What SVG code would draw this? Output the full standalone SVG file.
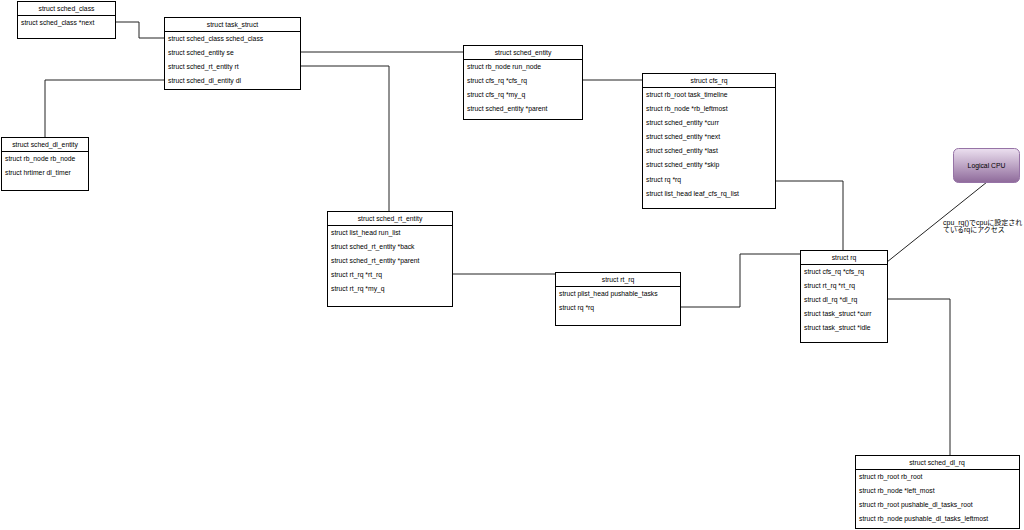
<svg xmlns="http://www.w3.org/2000/svg" width="1024" height="530" viewBox="0 0 1024 530">
<defs>
<linearGradient id="pg" x1="0" y1="0" x2="0" y2="1">
<stop offset="0" stop-color="#ece0f0"/>
<stop offset="1" stop-color="#8e6a9a"/>
</linearGradient>
<style>
.box{fill:#fff;stroke:#000;stroke-width:1}
.sep{stroke:#000;stroke-width:1}
.t{font-family:"Liberation Sans",Arial,sans-serif;font-size:6.8px;fill:#000}
.h{text-anchor:middle}
.c{fill:none;stroke:#222;stroke-width:1}
.j{font-family:"Liberation Sans","Noto Sans CJK JP",sans-serif;font-size:7px;fill:#000}
</style>
</defs>
<rect width="1024" height="530" fill="#fff"/>
<g id="connectors">
<polyline class="c" points="115,22 139,22 139,38 164,38"/>
<polyline class="c" points="300,52 463,52"/>
<polyline class="c" points="300,66 389,66 389,211"/>
<polyline class="c" points="164,80 45,80 45,137"/>
<polyline class="c" points="583,80 642,80"/>
<polyline class="c" points="452,274 555,274"/>
<polyline class="c" points="680,307 740,307 740,254 800,254"/>
<polyline class="c" points="775,181 843,181 843,250"/>
<polyline class="c" points="887,299 950,299 950,455"/>
<line class="c" x1="987" y1="182" x2="887" y2="262" stroke="#555"/>
</g>
<g id="sched_class">
<rect class="box" x="17.5" y="1.5" width="98" height="37"/>
<line class="sep" x1="17.5" y1="15.5" x2="115.5" y2="15.5"/>
<text class="t h" x="66.5" y="10.5">struct sched_class</text>
<text class="t" x="21" y="24.5">struct sched_class *next</text>
</g>
<g id="task_struct">
<rect class="box" x="164.5" y="17.5" width="136" height="72"/>
<line class="sep" x1="164.5" y1="31.5" x2="300.5" y2="31.5"/>
<text class="t h" x="232.5" y="26.5">struct task_struct</text>
<text class="t" x="168" y="40.5">struct sched_class sched_class</text>
<text class="t" x="168" y="54.5">struct sched_entity se</text>
<text class="t" x="168" y="68.5">struct sched_rt_entity rt</text>
<text class="t" x="168" y="82.5">struct sched_dl_entity dl</text>
</g>
<g id="sched_entity">
<rect class="box" x="463.5" y="45.5" width="119" height="74"/>
<line class="sep" x1="463.5" y1="59.5" x2="582.5" y2="59.5"/>
<text class="t h" x="523" y="54.5">struct sched_entity</text>
<text class="t" x="467" y="68.5">struct rb_node run_node</text>
<text class="t" x="467" y="82.5">struct cfs_rq *cfs_rq</text>
<text class="t" x="467" y="96.5">struct cfs_rq *my_q</text>
<text class="t" x="467" y="110.5">struct sched_entity *parent</text>
</g>
<g id="cfs_rq">
<rect class="box" x="642.5" y="73.5" width="133" height="135"/>
<line class="sep" x1="642.5" y1="87.5" x2="775.5" y2="87.5"/>
<text class="t h" x="709" y="82.5">struct cfs_rq</text>
<text class="t" x="646" y="96.5">struct rb_root task_timeline</text>
<text class="t" x="646" y="110.5">struct rb_node *rb_leftmost</text>
<text class="t" x="646" y="124.5">struct sched_entity *curr</text>
<text class="t" x="646" y="139">struct sched_entity *next</text>
<text class="t" x="646" y="153">struct sched_entity *last</text>
<text class="t" x="646" y="167">struct sched_entity *skip</text>
<text class="t" x="646" y="181.5">struct rq *rq</text>
<text class="t" x="646" y="195.5">struct list_head leaf_cfs_rq_list</text>
</g>
<g id="sched_dl_entity">
<rect class="box" x="1.5" y="137.5" width="87" height="53"/>
<line class="sep" x1="1.5" y1="151.5" x2="88.5" y2="151.5"/>
<text class="t h" x="45" y="146.5">struct sched_dl_entity</text>
<text class="t" x="5" y="160.5">struct rb_node rb_node</text>
<text class="t" x="5" y="174.5">struct hrtimer dl_timer</text>
</g>
<g id="sched_rt_entity">
<rect class="box" x="327.5" y="211.5" width="125" height="95"/>
<line class="sep" x1="327.5" y1="225.5" x2="452.5" y2="225.5"/>
<text class="t h" x="390" y="220.5">struct sched_rt_entity</text>
<text class="t" x="331" y="234.5">struct list_head run_list</text>
<text class="t" x="331" y="248.5">struct sched_rt_entity *back</text>
<text class="t" x="331" y="262.5">struct sched_rt_entity *parent</text>
<text class="t" x="331" y="276.5">struct rt_rq *rt_rq</text>
<text class="t" x="331" y="290.5">struct rt_rq *my_q</text>
</g>
<g id="rt_rq">
<rect class="box" x="555.5" y="272.5" width="125" height="53"/>
<line class="sep" x1="555.5" y1="286.5" x2="680.5" y2="286.5"/>
<text class="t h" x="618" y="281.5">struct rt_rq</text>
<text class="t" x="559" y="295.5">struct plist_head pushable_tasks</text>
<text class="t" x="559" y="309.5">struct rq *rq</text>
</g>
<g id="rq">
<rect class="box" x="800.5" y="250.5" width="87" height="92"/>
<line class="sep" x1="800.5" y1="264.5" x2="887.5" y2="264.5"/>
<text class="t h" x="844" y="259.5">struct rq</text>
<text class="t" x="804" y="273.5">struct cfs_rq *cfs_rq</text>
<text class="t" x="804" y="287.5">struct rt_rq *rt_rq</text>
<text class="t" x="804" y="301.5">struct dl_rq *dl_rq</text>
<text class="t" x="804" y="315.5">struct task_struct *curr</text>
<text class="t" x="804" y="330">struct task_struct *idle</text>
</g>
<g id="sched_dl_rq">
<rect class="box" x="855.5" y="455.5" width="164" height="73"/>
<line class="sep" x1="855.5" y1="469.5" x2="1019.5" y2="469.5"/>
<text class="t h" x="937" y="464.5">struct sched_dl_rq</text>
<text class="t" x="859" y="478.5">struct rb_root rb_root</text>
<text class="t" x="859" y="492.5">struct rb_node *left_most</text>
<text class="t" x="859" y="506.5">struct rb_root pushable_dl_tasks_root</text>
<text class="t" x="859" y="520.5">struct rb_node pushable_dl_tasks_leftmost</text>
</g>
<g id="logical_cpu">
<rect x="953.5" y="148.5" width="66" height="34" rx="5" ry="5" fill="url(#pg)" stroke="#9673a6" stroke-width="1"/>
<text class="t h" x="986.5" y="167.5">Logical CPU</text>
</g>
<g id="cpu_label">
<text class="j" x="943" y="225">cpu_rq()でcpuに設定され</text>
<text class="j" x="943" y="232">ているrqにアクセス</text>
</g>
</svg>
